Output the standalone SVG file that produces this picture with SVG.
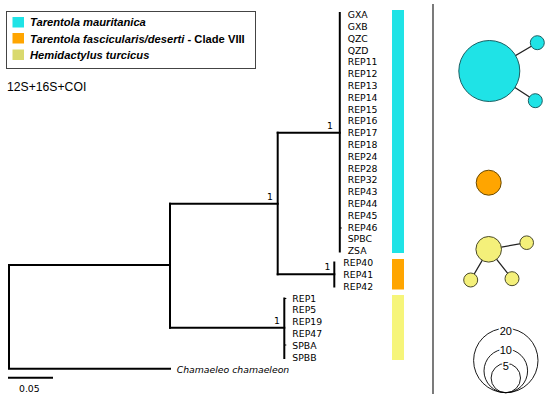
<svg xmlns="http://www.w3.org/2000/svg" width="550" height="399" viewBox="0 0 550 399">
<style>
.br{stroke:#000;stroke-width:2;fill:none;stroke-linecap:square}
.lab{font-family:"DejaVu Sans",Verdana,sans-serif;font-size:9.3px;fill:#000}
.it{font-style:italic}
.leg{font-family:"Liberation Sans",Arial,sans-serif;font-size:11.2px;font-weight:bold;font-style:italic;fill:#000}
.cy{fill:#1fe3e6}
.or{fill:#ffa500}
.ye{fill:#f6f57a}
.net{stroke-width:1}
.sc{fill:none;stroke:#000;stroke-width:0.9}
.sct{font-family:"Liberation Sans",Arial,sans-serif;font-size:11px;fill:#000;text-anchor:middle;stroke:#fff;stroke-width:3;paint-order:stroke}
</style>
<rect width="550" height="399" fill="#fff"/>
<g id="legend">
<rect x="6.5" y="11.5" width="249" height="57" fill="#fff" stroke="#444" stroke-width="1"/>
<rect x="12.5" y="17" width="11.5" height="10.5" class="cy"/>
<rect x="12.5" y="33" width="11.5" height="10.5" fill="#ffa500"/>
<rect x="12.5" y="49.5" width="11.5" height="10.5" fill="#d9d96e"/>
<text class="leg" x="30" y="26">Tarentola mauritanica</text>
<text class="leg" x="30" y="42.5">Tarentola fascicularis/deserti <tspan font-style="normal">- Clade VIII</tspan></text>
<text class="leg" x="30" y="59">Hemidactylus turcicus</text>
</g>
<text id="title" x="7" y="90.5" font-family="Liberation Sans,Arial,sans-serif" font-size="12.2" fill="#000">12S+16S+COI</text>
<g id="connectors">
<path class="br" d="M9,265 V368.7 H170"/>
<path class="br" d="M9,265 H170"/>
<path class="br" d="M170,203.7 V327.7"/>
<path class="br" d="M170,203.7 H277.7"/>
<path class="br" d="M277.7,132.7 V274.3"/>
<path class="br" d="M277.7,132.7 H339.8"/>
<path class="br" d="M339.8,13 V251.5"/>
<path class="br" d="M277.7,274.3 H334.3"/>
<path class="br" d="M334.3,262.5 V286.5"/>
<path class="br" d="M170,327.7 H284.3"/>
<path class="br" d="M284.3,298.5 V358"/>
<path d="M339.8,228 h2 M284.3,298.5 h2 M284.3,345 h2" stroke="#000" stroke-width="1" fill="none"/>
<path class="br" d="M9,377.7 H52"/>
</g>
<g id="supports" class="lab">
<text x="327" y="128.5">1</text>
<text x="267" y="199.5">1</text>
<text x="324.5" y="269.5">1</text>
<text x="274" y="323.5">1</text>
</g>
<g id="tips" class="lab">
<text x="347.7" y="18.2">GXA</text>
<text x="347.7" y="30">GXB</text>
<text x="347.7" y="41.8">QZC</text>
<text x="347.7" y="53.6">QZD</text>
<text x="347.7" y="65.4">REP11</text>
<text x="347.7" y="77.2">REP12</text>
<text x="347.7" y="89">REP13</text>
<text x="347.7" y="100.8">REP14</text>
<text x="347.7" y="112.6">REP15</text>
<text x="347.7" y="124.4">REP16</text>
<text x="347.7" y="136.2">REP17</text>
<text x="347.7" y="148">REP18</text>
<text x="347.7" y="159.8">REP24</text>
<text x="347.7" y="171.6">REP28</text>
<text x="347.7" y="183.4">REP32</text>
<text x="347.7" y="195.2">REP43</text>
<text x="347.7" y="207">REP44</text>
<text x="347.7" y="218.8">REP45</text>
<text x="347.7" y="230.6">REP46</text>
<text x="347.7" y="242.4">SPBC</text>
<text x="347.7" y="254.2">ZSA</text>
<text x="343.3" y="266">REP40</text>
<text x="343.3" y="277.8">REP41</text>
<text x="343.3" y="289.6">REP42</text>
<text x="292.3" y="301.6">REP1</text>
<text x="292.3" y="313.4">REP5</text>
<text x="292.3" y="325.2">REP19</text>
<text x="292.3" y="337">REP47</text>
<text x="292.3" y="348.8">SPBA</text>
<text x="292.3" y="360.6">SPBB</text>
<text x="176.7" y="372.5" class="it">Chamaeleo chamaeleon</text>
<text x="19" y="392">0.05</text>
</g>
<g id="bars">
<rect x="392" y="10" width="12" height="243" class="cy"/>
<rect x="392" y="259" width="12" height="30.5" class="or"/>
<rect x="392" y="295" width="12" height="65" class="ye"/>
</g>
<line id="divider" x1="433" y1="4" x2="433" y2="394" stroke="#222" stroke-width="1.2"/>
<g id="net-mauritanica">
<path d="M489.3,71 L537.3,42.7 M489.3,71 L535.3,100.7" stroke="#222" stroke-width="1.3"/>
<circle cx="489.3" cy="71" r="30.5" class="cy" stroke="#1b5f63" stroke-width="1"/>
<circle cx="537.3" cy="42.7" r="7" class="cy" stroke="#1b5f63" stroke-width="1"/>
<circle cx="535.3" cy="100.7" r="7" class="cy" stroke="#1b5f63" stroke-width="1"/>
</g>
<g id="net-fascicularis">
<circle cx="488.7" cy="182.7" r="12.5" class="or" stroke="#6b4a00" stroke-width="1"/>
</g>
<g id="net-hemidactylus">
<path d="M488.7,249.3 L526.7,242.7 M488.7,249.3 L470.7,280 M488.7,249.3 L512,278.7" stroke="#222" stroke-width="1.3"/>
<circle cx="488.7" cy="249.3" r="12.8" fill="#f4f07a" stroke="#4a4a2a" stroke-width="1"/>
<circle cx="526.7" cy="242.7" r="6.8" fill="#f4f07a" stroke="#4a4a2a" stroke-width="1"/>
<circle cx="470.7" cy="280" r="7" fill="#f4f07a" stroke="#4a4a2a" stroke-width="1"/>
<circle cx="512" cy="278.7" r="7" fill="#f4f07a" stroke="#4a4a2a" stroke-width="1"/>
</g>
<g id="scale-circles">
<circle cx="505.8" cy="360.5" r="32.2" class="sc"/>
<circle cx="505.8" cy="370.9" r="21.8" class="sc"/>
<circle cx="505.8" cy="378" r="14.7" class="sc"/>
<text class="sct" x="505.8" y="334.5">20</text>
<text class="sct" x="505.8" y="354">10</text>
<text class="sct" x="505.8" y="369.5">5</text>
</g>
</svg>
